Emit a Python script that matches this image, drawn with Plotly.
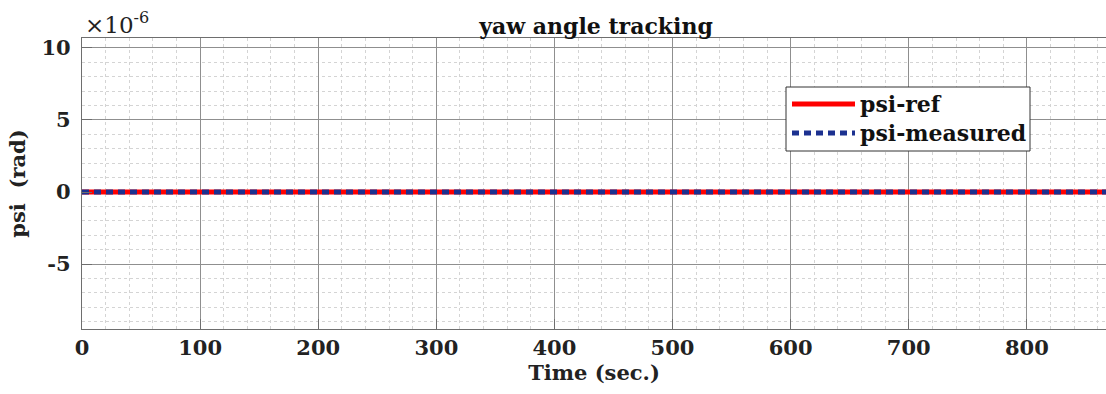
import plotly.graph_objects as go

# Simulation time (s) and yaw angle signals (rad)
time_s = [0, 100, 200, 300, 400, 500, 600, 700, 800, 870]
psi_ref = [0.0, 0.0, 0.0, 0.0, 0.0, 0.0, 0.0, 0.0, 0.0, 0.0]
psi_measured = [0.0, 0.0, 0.0, 0.0, 0.0, 0.0, 0.0, 0.0, 0.0, 0.0]

series_names = ["psi-ref", "psi-measured"]
series_colors = ["#ff0000", "#1c3190"]

# Y tick labels are shown in units of 1e-6 rad
y_scale = 1e-6
y_tick_numbers = [-5, 0, 5, 10]
x_tick_numbers = [0, 100, 200, 300, 400, 500, 600, 700, 800]

FONT = "DejaVu Serif"
W, H = 1106, 394
L, R, T, B = 82, 0, 38, 65

fig = go.Figure()
fig.add_trace(go.Scatter(
    x=time_s, y=psi_ref, mode="lines", name=series_names[0],
    line=dict(color=series_colors[0], width=5), showlegend=False,
))
fig.add_trace(go.Scatter(
    x=time_s, y=psi_measured, mode="lines", name=series_names[1],
    line=dict(color=series_colors[1], width=5, dash="7px,5px"), showlegend=False,
))

axis_common = dict(
    showline=True, linecolor="#6e6e6e", linewidth=1.2,
    ticks="inside", ticklen=10, tickcolor="#6e6e6e", tickwidth=1,
    showgrid=True, gridcolor="#8f8f8f", gridwidth=1,
    zeroline=False,
    tickfont=dict(family=FONT, size=21, color="#222222", weight="bold"),
    title_font=dict(family=FONT, size=21, color="#222222", weight="bold"),
)

fig.update_xaxes(
    **axis_common,
    range=[0, 867],
    tickvals=x_tick_numbers,
    ticktext=[str(v) for v in x_tick_numbers],
    mirror=True,
    minor=dict(dtick=20, showgrid=True, gridcolor="#d4d4d4", griddash="dot",
               gridwidth=1, ticks=""),
    title=dict(text="Time (sec.)", standoff=4),
)
fig.update_yaxes(
    **axis_common,
    range=[-9.51 * y_scale, 10.69 * y_scale],
    tickvals=[v * y_scale for v in y_tick_numbers],
    ticktext=[str(v) for v in y_tick_numbers],
    mirror=False,
    minor=dict(dtick=1 * y_scale, tick0=0, showgrid=True, gridcolor="#d4d4d4",
               griddash="dot", gridwidth=1, ticks=""),
    title=dict(text="psi  (rad)", standoff=10),
    ticklabelstandoff=6,
)

# Exponent label above the y axis
fig.add_annotation(
    xref="paper", yref="paper", x=0.0, y=1.0, xanchor="left", yanchor="bottom",
    xshift=1, yshift=-2,
    text="×10<sup>-6</sup>", showarrow=False,
    font=dict(family=FONT, size=23, color="#222222"),
)

# Legend box with line samples
px_w = W - L - R
px_h = H - T - B
def px_to_paper(xp, yp):
    return (xp - L) / px_w, 1 - (yp - T) / px_h

bx0, by0 = px_to_paper(786, 87)
bx1, by1 = px_to_paper(1030, 151)
fig.add_shape(type="rect", xref="paper", yref="paper", x0=bx0, y0=by1, x1=bx1, y1=by0,
              line=dict(color="#333333", width=1), fillcolor="white", layer="above")
row_y = [104, 133]
dashes = ["solid", "7px,5px"]
for name, color, dash, ry in zip(series_names, series_colors, dashes, row_y):
    sx0, sy = px_to_paper(792, ry)
    sx1, _ = px_to_paper(855, ry)
    fig.add_shape(type="line", xref="paper", yref="paper", x0=sx0, y0=sy, x1=sx1, y1=sy,
                  line=dict(color=color, width=5, dash=dash), layer="above")
    tx, _ = px_to_paper(858, ry)
    fig.add_annotation(xref="paper", yref="paper", x=tx, y=sy, xanchor="left",
                       yanchor="middle", text=name, showarrow=False,
                       font=dict(family=FONT, size=22, color="#111111", weight="bold"))

title_x, _ = px_to_paper(596, 0)
fig.update_layout(
    width=W, height=H,
    margin=dict(l=L, r=R, t=T, b=B),
    paper_bgcolor="white", plot_bgcolor="white",
    title=dict(text="yaw angle tracking", x=title_x,
               xanchor="center", xref="paper", y=1 - 26 / H, yanchor="middle",
               yref="container",
               font=dict(family=FONT, size=22, color="#111111", weight="bold")),
    showlegend=False,
)

fig.write_html("out.html")
